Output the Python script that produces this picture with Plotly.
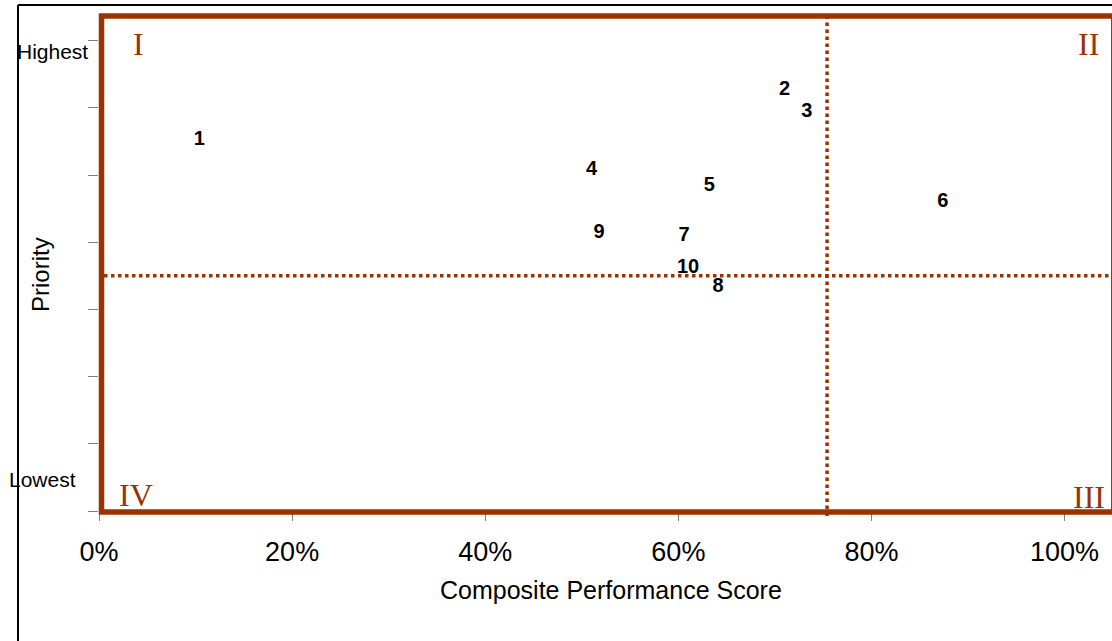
import plotly.graph_objects as go

# ---- data ----
point_labels = ["1", "2", "3", "4", "5", "6", "7", "8", "9", "10"]
performance = [0.104, 0.710, 0.733, 0.510, 0.632, 0.874, 0.606, 0.641, 0.518, 0.610]
priority = [5.52, 6.27, 5.94, 5.07, 4.84, 4.60, 4.09, 3.33, 4.14, 3.62]

x_tick_values = [0, 0.2, 0.4, 0.6, 0.8, 1.0]
x_tick_labels = ["0%", "20%", "40%", "60%", "80%", "100%"]
y_tick_values = [0, 1, 2, 3, 4, 5, 6, 7]
y_end_labels = {"Lowest": 0, "Highest": 7}

performance_threshold = 0.754
priority_threshold = 3.5
quadrant_labels = ["I", "II", "III", "IV"]

BROWN = "#993300"
SANS = "Liberation Sans, Arial, sans-serif"
SERIF = "Liberation Serif, Times New Roman, serif"

W, H = 1112, 641
L, R, T, B = 99, 0, 16, 130
plot_w = W - L - R
plot_h = H - T - B


def px_x(px):
    return (px - L) / plot_w


def px_y(py):
    return (H - B - py) / plot_h


fig = go.Figure()
fig.add_trace(go.Scatter(
    x=performance, y=priority, text=point_labels,
    mode="text", textposition="middle center",
    textfont=dict(family=SANS, size=20, color="black", weight="bold"),
    hoverinfo="skip", showlegend=False, cliponaxis=False,
))

x_max = plot_w / 965.6
y_max = plot_h / 67.19

fig.update_layout(
    width=W, height=H,
    margin=dict(l=L, r=R, t=T, b=B, autoexpand=False),
    paper_bgcolor="white", plot_bgcolor="white",
    showlegend=False,
    xaxis=dict(
        range=[0, x_max], tickvals=x_tick_values, ticktext=x_tick_labels,
        ticks="outside", ticklen=9, tickcolor="#808080", tickwidth=1,
        showgrid=False, zeroline=False, showline=False,
        tickfont=dict(family=SANS, size=27, color="black"),
        ticklabelstandoff=8,
    ),
    yaxis=dict(
        range=[0, y_max], tickvals=y_tick_values,
        ticktext=[""] * len(y_tick_values),
        ticks="outside", ticklen=10, tickcolor="#808080", tickwidth=1,
        showgrid=False, zeroline=False, showline=False,
    ),
)

shapes = []
# outer black frame (partially visible)
shapes.append(dict(type="line", xref="paper", yref="paper",
                   x0=px_x(18), x1=px_x(18), y0=px_y(645), y1=px_y(5),
                   line=dict(color="black", width=2)))
shapes.append(dict(type="line", xref="paper", yref="paper",
                   x0=px_x(18), x1=px_x(1115), y0=px_y(5), y1=px_y(5),
                   line=dict(color="black", width=2)))
# quadrant dividers
shapes.append(dict(type="line", xref="x", yref="paper",
                   x0=performance_threshold, x1=performance_threshold,
                   y0=px_y(516), y1=px_y(14),
                   line=dict(color=BROWN, width=3.5, dash="3.5px,3.5px")))
shapes.append(dict(type="line", xref="paper", yref="y",
                   x0=px_x(104), x1=px_x(1115),
                   y0=priority_threshold, y1=priority_threshold,
                   line=dict(color=BROWN, width=3.5, dash="3.5px,3.5px")))
# brown frame
shapes.append(dict(type="rect", xref="paper", yref="paper",
                   x0=px_x(101.5), x1=px_x(1113.8), y0=px_y(512), y1=px_y(16),
                   line=dict(color=BROWN, width=5.5), fillcolor="rgba(0,0,0,0)"))
fig.update_layout(shapes=shapes)

ann = []
# quadrant labels
quad_pos = {"I": (138, 44), "II": (1088.5, 44), "III": (1089, 497), "IV": (135.5, 495)}
for q in quadrant_labels:
    qx, qy = quad_pos[q]
    ann.append(dict(text=q, xref="paper", yref="paper", x=px_x(qx), y=px_y(qy),
                    xanchor="center", yanchor="middle", showarrow=False,
                    font=dict(family=SERIF, size=32, color=BROWN)))
# y end labels
end_pos = {"Highest": (52.5, -11), "Lowest": (42.5, 32)}
for lab, val in y_end_labels.items():
    ex, shift = end_pos[lab]
    ann.append(dict(text=lab, xref="paper", yref="y", x=px_x(ex), y=val,
                    yshift=shift, xanchor="center", yanchor="middle",
                    showarrow=False,
                    font=dict(family=SANS, size=21, color="black")))
# axis titles
ann.append(dict(text="Composite Performance Score", xref="paper", yref="paper",
                x=px_x(611), y=px_y(590), xanchor="center", yanchor="middle",
                showarrow=False, font=dict(family=SANS, size=25, color="black")))
ann.append(dict(text="Priority", xref="paper", yref="paper",
                x=px_x(40), y=px_y(275), xanchor="center", yanchor="middle",
                textangle=-90, showarrow=False,
                font=dict(family=SANS, size=24, color="black")))
fig.update_layout(annotations=ann)

fig.write_html(
    "out.html",
    config={"displayModeBar": False, "staticPlot": True},
    post_script="document.body.style.margin='0';document.body.style.overflow='hidden';",
)
